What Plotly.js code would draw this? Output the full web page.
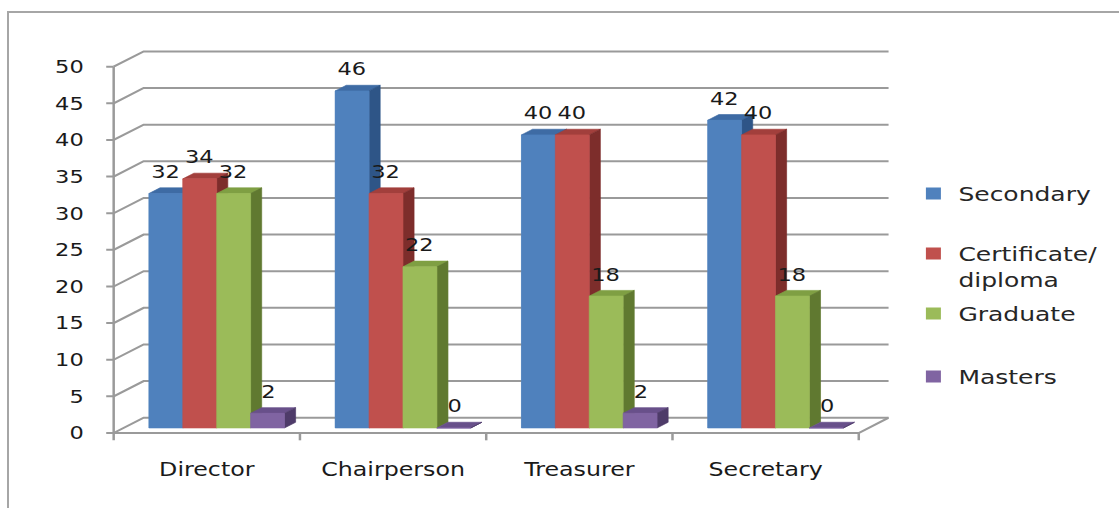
<!DOCTYPE html>
<html><head><meta charset="utf-8">
<script src="https://cdn.plot.ly/plotly-3.0.1.min.js"></script>
<style>
html,body{margin:0;padding:0;background:#fff;overflow:hidden;width:1119px;height:508px;}
#chart{position:absolute;left:0;top:0;width:895px;height:508px;transform:scale(1.25,1);transform-origin:0 0;}
#frame{position:absolute;left:7px;top:11px;width:1130px;height:520px;border-left:2px solid #a6a6a6;border-top:2px solid #a6a6a6;pointer-events:none;}
</style></head><body>
<div id="chart"></div><div id="frame"></div>
<script>
// ---- data ----
const categories = ['Director', 'Chairperson', 'Treasurer', 'Secretary'];
const seriesNames = ['Secondary', 'Certificate/<br>diploma', 'Graduate', 'Masters'];
const secondary   = [32, 46, 40, 42];
const certificate = [34, 32, 40, 40];
const graduate    = [32, 22, 18, 18];
const masters     = [2, 0, 2, 0];
const yTicks = [0, 5, 10, 15, 20, 25, 30, 35, 40, 45, 50];

// ---- style / geometry ----
const series = [secondary, certificate, graduate, masters];
const colorsFront = ['#4F81BD', '#C0504D', '#9BBB59', '#8064A2'];
const colorsTop   = ['#3E6BA4', '#A23F3C', '#7F9F43', '#68508A'];
const colorsSide  = ['#2E5587', '#7D2D2B', '#607930', '#4E3B69'];
const DX = 0.161, DY = 2.09;   // floor depth vector (x units, value units)
const F0 = 0.33, FD = 0.37;    // bar front depth fraction, bar depth fraction
const BW = 0.182;              // bar width in category units
const TL = 1.0;                // category tick length (value units)
const TX = 0.04;               // value tick length (x units)
const n = categories.length, m = series.length;
const idx = categories.map((c, i) => i);
const gridColor = '#9a9a9a';
const FONT = 'DejaVu Sans, Verdana, sans-serif';

const traces = [];

// real bars (front faces, also legend entries)
series.forEach((vals, si) => {
  traces.push({
    type: 'bar', x: idx, y: vals, base: F0 * DY,
    offset: -BW * m / 2 + si * BW + F0 * DX, width: BW,
    marker: {color: colorsFront[si], line: {width: 0}},
    name: seriesNames[si], legend: si === 0 ? 'legend' : 'legend' + (si + 1),
    hovertemplate: '%{y}<extra>' + seriesNames[si].replace('<br>', '') + '</extra>'
  });
});

// back-wall gridlines
const gx = [], gy = [];
yTicks.forEach(v => { gx.push(-0.5, -0.5 + DX, n - 0.5 + DX, null); gy.push(v, v + DY, v + DY, null); });
traces.push({type: 'scatter', mode: 'lines', x: gx, y: gy, line: {color: gridColor, width: 2},
  hoverinfo: 'skip', showlegend: false});

// floor edges, axis line, ticks
const ax = [], ay = [];
ax.push(-0.5, n - 0.5, n - 0.5 + DX, null); ay.push(0, 0, DY, null);
ax.push(-0.5, -0.5, null); ay.push(0, yTicks[yTicks.length - 1], null);
for (let k = 0; k <= n; k++) { ax.push(k - 0.5, k - 0.5, null); ay.push(0, -TL, null); }
yTicks.forEach(v => { ax.push(-0.5 - TX, -0.5, null); ay.push(v, v, null); });
traces.push({type: 'scatter', mode: 'lines', x: ax, y: ay, line: {color: gridColor, width: 2},
  hoverinfo: 'skip', showlegend: false});

// 3D faces, painted left to right
series.forEach((vals, si) => {
  const tx = [], ty = [], sx = [], sy = [], fx = [], fy = [];
  vals.forEach((v, ci) => {
    const L = ci - BW * m / 2 + si * BW + F0 * DX, R = L + BW;
    const b = F0 * DY, t = v + F0 * DY;
    const ddx = FD * DX, ddy = FD * DY;
    tx.push(L, R, R + ddx, L + ddx, L, null); ty.push(t, t, t + ddy, t + ddy, t, null);
    sx.push(R, R, R + ddx, R + ddx, R, null); sy.push(b, t, t + ddy, b + ddy, b, null);
    fx.push(L, R, R, L, L, null); fy.push(b, b, t, t, b, null);
  });
  [[tx, ty, colorsTop[si]], [sx, sy, colorsSide[si]], [fx, fy, colorsFront[si]]].forEach(([x, y, c]) => {
    traces.push({type: 'scatter', mode: 'lines', x: x, y: y, fill: 'toself', fillcolor: c,
      line: {color: c, width: 0.6}, hoverinfo: 'skip', showlegend: false});
  });
});

// data labels
const annotations = [];
series.forEach((vals, si) => {
  vals.forEach((v, ci) => {
    annotations.push({
      x: ci - BW * m / 2 + (si + 0.5) * BW + F0 * DX, y: v + F0 * DY, xref: 'x', yref: 'y',
      text: String(v), showarrow: false, yshift: 22,
      font: {family: FONT, size: 18, color: '#1a1a1a'}
    });
  });
});

const legendBase = {x: 1.025, xanchor: 'left', yanchor: 'top', bgcolor: 'rgba(0,0,0,0)',
  font: {family: FONT, size: 20, color: '#262626'}, valign: 'top'};
const layout = {
  width: 895, height: 508,
  margin: {l: 82.2, r: 182.3, t: 40, b: 60},
  paper_bgcolor: '#ffffff', plot_bgcolor: 'rgba(0,0,0,0)',
  font: {family: FONT, color: '#1a1a1a'},
  barmode: 'overlay',
  showlegend: true,
  xaxis: {range: [-0.56, n - 0.5 + DX], tickvals: idx, ticktext: categories, ticks: '',
    showgrid: false, zeroline: false, showline: false, ticklabelstandoff: 8,
    tickfont: {family: FONT, size: 19, color: '#1a1a1a'}, fixedrange: true},
  yaxis: {range: [-15 / 7.326, 393 / 7.326], tickvals: yTicks, ticktext: yTicks.map(String), ticks: '',
    showgrid: false, zeroline: false, showline: false, ticklabelstandoff: 14,
    tickfont: {family: FONT, size: 18, color: '#1a1a1a'}, fixedrange: true},
  legend:  Object.assign({}, legendBase, {y: (448 - 174) / 408}),
  legend2: Object.assign({}, legendBase, {y: (448 - 234) / 408}),
  legend3: Object.assign({}, legendBase, {y: (448 - 294) / 408}),
  legend4: Object.assign({}, legendBase, {y: (448 - 357) / 408}),
  annotations: annotations
};
Plotly.newPlot('chart', traces, layout, {displayModeBar: false, staticPlot: true});
</script>
</body></html>
